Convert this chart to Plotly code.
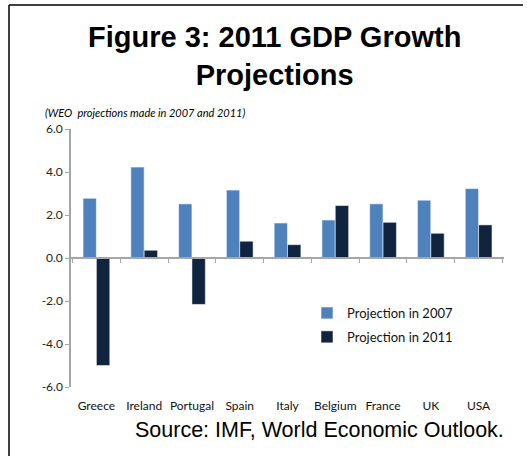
import plotly.graph_objects as go

countries = ["Greece", "Ireland", "Portugal", "Spain", "Italy", "Belgium", "France", "UK", "USA"]
proj_2007 = [2.78, 4.23, 2.52, 3.16, 1.63, 1.77, 2.52, 2.69, 3.23]
proj_2011 = [-5.0, 0.36, -2.16, 0.78, 0.62, 2.44, 1.66, 1.15, 1.54]
y_ticks = [-6, -4, -2, 0, 2, 4, 6]

W, H = 527, 456
ML, MR, MT, MB = 71, 23, 129, 69
PW = W - ML - MR
PH = H - MT - MB


def px_x(p):
    return (p - ML) / PW


def px_y(p):
    return (H - MB - p) / PH


fig = go.Figure()
fig.add_trace(go.Bar(
    x=countries, y=proj_2007, name="Projection in 2007",
    marker=dict(color="#4F81BD", line=dict(color="rgba(255,255,255,0.6)", width=1)),
    legendgroup="a",
))
fig.add_trace(go.Bar(
    x=countries, y=proj_2011, name="Projection in 2011",
    marker=dict(color="#10243F", line=dict(color="rgba(255,255,255,0.5)", width=1)),
    legendgroup="b",
))
# helper trace for the category axis drawn at y = 0
fig.add_trace(go.Scatter(
    x=countries, y=[None] * len(countries), xaxis="x2", yaxis="y",
    showlegend=False, hoverinfo="skip", mode="markers",
))

fig.update_layout(
    width=W, height=H,
    margin=dict(l=ML, r=MR, t=MT, b=MB),
    paper_bgcolor="white", plot_bgcolor="white",
    barmode="group", bargap=0.44, bargroupgap=0.0,
    font=dict(family="Lato, Liberation Sans, sans-serif", color="#222222"),
    xaxis=dict(
        type="category", showline=False, ticks="", showgrid=False,
        tickfont=dict(size=12, color="#111111"),
        ticklabelstandoff=10,
    ),
    xaxis2=dict(
        type="category", overlaying="x", matches="x", anchor="free", position=0.5,
        showline=True, linecolor="#A6A6A6", linewidth=1.5,
        ticks="outside", ticklen=4, tickcolor="#A6A6A6", tickson="boundaries",
        showticklabels=False, showgrid=False,
    ),
    yaxis=dict(
        range=[-6, 6], tickvals=y_ticks, ticktext=[f"{v:.1f}" for v in y_ticks],
        showline=True, linecolor="#A6A6A6", linewidth=1.5,
        ticks="outside", ticklen=4, tickcolor="#A6A6A6",
        showgrid=False, zeroline=False,
        tickfont=dict(size=12, color="#222222"),
    ),
    legend=dict(
        x=px_x(307), y=px_y(298), xanchor="left", yanchor="top",
        font=dict(size=13, color="#111111"),
        bgcolor="rgba(0,0,0,0)", traceorder="grouped", tracegroupgap=4,
    ),
    annotations=[
        dict(text="<b>Figure 3: 2011 GDP Growth<br>Projections</b>",
             xref="paper", yref="paper", x=px_x(274), y=px_y(56),
             xanchor="center", yanchor="middle", showarrow=False,
             font=dict(family="Liberation Sans, Arial, sans-serif", size=29, color="black")),
        dict(text="<i>(WEO  projections made in 2007 and 2011)</i>",
             xref="paper", yref="paper", x=px_x(43), y=px_y(113),
             xanchor="left", yanchor="middle", showarrow=False,
             font=dict(family="Lato, Liberation Sans, sans-serif", size=11, color="black")),
        dict(text="Source: IMF, World Economic Outlook.",
             xref="paper", yref="paper", x=px_x(506), y=px_y(430),
             xanchor="right", yanchor="middle", showarrow=False,
             font=dict(family="Liberation Sans, Arial, sans-serif", size=21.5, color="black")),
    ],
    shapes=[
        dict(type="line", xref="paper", yref="paper",
             x0=px_x(9), x1=px_x(523), y0=px_y(5), y1=px_y(5),
             line=dict(color="black", width=1.5)),
        dict(type="line", xref="paper", yref="paper",
             x0=px_x(9), x1=px_x(9), y0=px_y(5), y1=px_y(460),
             line=dict(color="black", width=1.5)),
    ],
)

fig.write_html("out.html", config={"displayModeBar": False},
               post_script="document.body.style.margin='0px';")
